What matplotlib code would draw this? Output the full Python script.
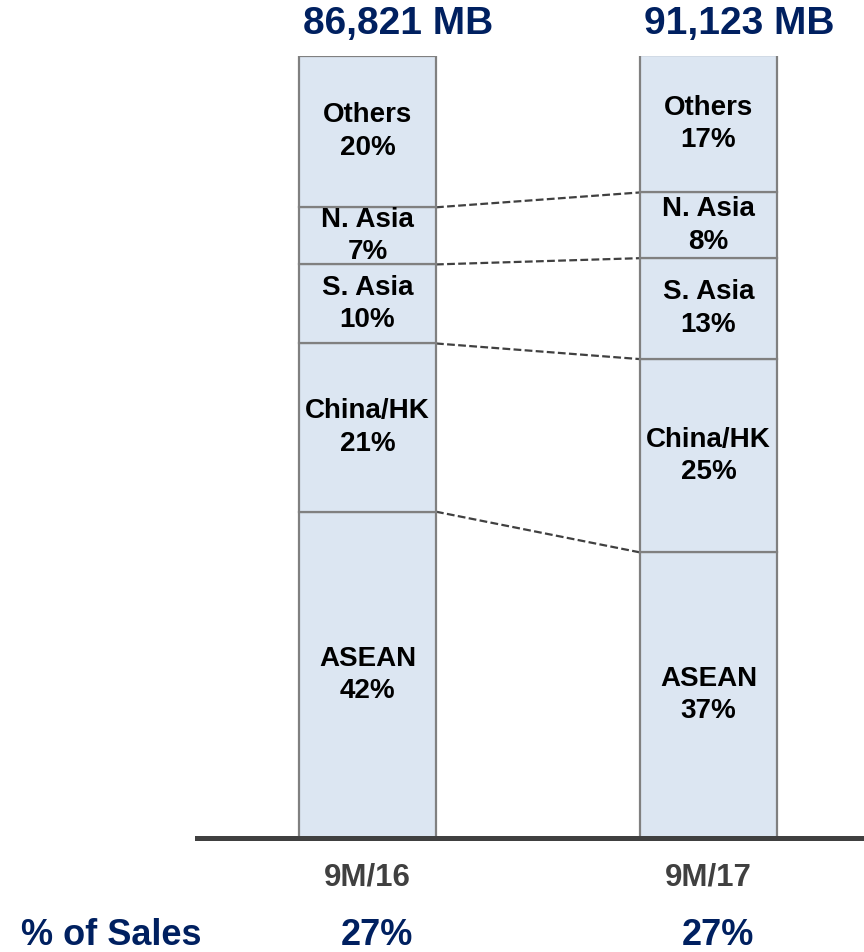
import matplotlib
matplotlib.use('Agg')
import matplotlib.pyplot as plt
import numpy as np

plt.rcParams['font.family'] = ['Liberation Sans', 'DejaVu Sans']
plt.rcParams['font.weight'] = 'bold'

# data
periods = ['9M/16', '9M/17']
totals = ['86,821 MB', '91,123 MB']
pct_of_sales = ['27%', '27%']
regions = ['ASEAN', 'China/HK', 'S. Asia', 'N. Asia', 'Others']
# segment heights as drawn (share of bar)
share_16 = [41.7, 21.5, 10.1, 7.3, 19.4]
share_17 = [36.5, 24.7, 12.9, 8.4, 17.5]
# labels printed in the segments
label_16 = ['42%', '21%', '10%', '7%', '20%']
label_17 = ['37%', '25%', '13%', '8%', '17%']

NAVY = '#002060'
FILL = '#dce6f2'
EDGE = '#808080'
DARK = '#404040'

fig = plt.figure(figsize=(8.64, 9.52), dpi=100)
ax = fig.add_axes([0, 114/952, 1, 782.5/952])
ax.set_xlim(-367.5/341, (864-367.5)/341)
ax.set_ylim(0, 100)
ax.axis('off')

x = np.arange(len(periods))
width = 137/341
shares = np.array([share_16, share_17])
labels = [label_16, label_17]

for i in range(len(periods)):
    bottom = 0
    for j, reg in enumerate(regions):
        h = shares[i][j]
        ax.bar(x[i], h, width, bottom=bottom, color=FILL, edgecolor=EDGE,
               linewidth=1.6, zorder=2)
        ax.text(x[i], bottom + h/2, reg + '\n' + labels[i][j], ha='center', va='center',
                fontsize=20, color='black', linespacing=1.32, zorder=3)
        bottom += h

# dashed connectors between segment boundaries
cum = np.cumsum(shares, axis=1)
for j in range(len(regions) - 1):
    ax.plot([x[0] + width/2, x[1] - width/2], [cum[0][j], cum[1][j]],
            ls=(0, (3.5, 1.5)), color=DARK, lw=1.6, zorder=1)

# baseline
ax.axhline(0, xmin=197/864, xmax=1, color=DARK, lw=3.6, zorder=4, clip_on=False)

for i in range(len(periods)):
    ax.text(x[i] + 0.09, 104.0, totals[i], ha='center', va='center',
            fontsize=28, color=NAVY, clip_on=False)
    ax.text(x[i], -5.1, periods[i], ha='center', va='center',
            fontsize=22.5, color=DARK, clip_on=False)
    ax.text(x[i] + 0.028, -12.4, pct_of_sales[i], ha='center', va='center',
            fontsize=26, color=NAVY, clip_on=False)

ax.text(-0.752, -12.4, '% of Sales', ha='center', va='center',
        fontsize=26, color=NAVY, clip_on=False)

fig.savefig('out.png', dpi=100)
